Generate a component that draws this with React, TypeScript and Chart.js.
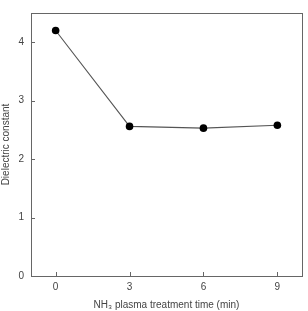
import React, { useEffect, useRef } from "react";
import { Chart, registerables } from "chart.js";

Chart.register(...registerables);

const treatmentTimes = [0, 3, 6, 9];
const dielectricConstants = [4.2, 2.56, 2.53, 2.58];
const xTickValues = [0, 3, 6, 9];
const yTickValues = [0, 1, 2, 3, 4];

const FONT = "'Liberation Sans', Arial, sans-serif";
const TEXT = "#444";
const FRAME = "#666";

// Draws the box around the plot area and short inward tick marks.
const framePlugin = {
  id: "frameTicks",
  afterDatasetsDraw(chart: any) {
    const { ctx, chartArea, scales } = chart;
    const { left, right, top, bottom } = chartArea;
    ctx.save();
    ctx.strokeStyle = FRAME;
    ctx.lineWidth = 1;
    ctx.strokeRect(Math.round(left) + 0.5, Math.round(top) + 0.5, Math.round(right - left), Math.round(bottom - top));
    const len = 4;
    ctx.beginPath();
    for (const v of xTickValues) {
      const x = Math.round(scales.x.getPixelForValue(v)) + 0.5;
      ctx.moveTo(x, Math.round(bottom));
      ctx.lineTo(x, Math.round(bottom) - len);
    }
    for (const v of yTickValues) {
      const y = Math.round(scales.y.getPixelForValue(v)) + 0.5;
      ctx.moveTo(Math.round(left), y);
      ctx.lineTo(Math.round(left) + len, y);
    }
    ctx.stroke();
    ctx.restore();
  },
};

export default function App() {
  const ref = useRef<HTMLCanvasElement>(null);

  useEffect(() => {
    if (!ref.current) return;
    const chart = new Chart(ref.current, {
      type: "scatter",
      data: {
        datasets: [
          {
            data: treatmentTimes.map((t, i) => ({ x: t, y: dielectricConstants[i] })),
            showLine: true,
            borderColor: "#555",
            borderWidth: 1.1,
            pointRadius: 3.8,
            pointBackgroundColor: "#000",
            pointBorderColor: "#000",
            pointBorderWidth: 0,
          },
        ],
      },
      options: {
        animation: false,
        responsive: false,
        devicePixelRatio: 1,
        layout: { padding: { top: 7, right: 6, left: 0, bottom: 0 } },
        plugins: { legend: { display: false }, tooltip: { enabled: false } },
        scales: {
          x: {
            type: "linear",
            min: -1,
            max: 10,
            afterBuildTicks: (s: any) => {
              s.ticks = xTickValues.map((v) => ({ value: v }));
            },
            afterFit: (s: any) => {
              s.height = 35;
            },
            grid: { display: false, drawTicks: false },
            border: { display: false },
            ticks: { color: TEXT, font: { family: FONT, size: 10 }, padding: 5 },
            title: {
              display: true,
              text: "NH₃ plasma treatment time (min)",
              color: TEXT,
              font: { family: FONT, size: 10 },
              padding: { top: 3, bottom: 0 },
            },
          },
          y: {
            type: "linear",
            min: 0,
            max: 4.5,
            afterBuildTicks: (s: any) => {
              s.ticks = yTickValues.map((v) => ({ value: v }));
            },
            afterFit: (s: any) => {
              s.width = 31;
            },
            grid: { display: false, drawTicks: false },
            border: { display: false },
            ticks: { color: TEXT, font: { family: FONT, size: 10 }, padding: 7 },
            title: {
              display: true,
              text: "Dielectric constant",
              color: TEXT,
              font: { family: FONT, size: 10 },
              padding: { top: 0, bottom: 4 },
            },
          },
        },
      },
      plugins: [framePlugin],
    });
    return () => chart.destroy();
  }, []);

  return (
    <div style={{ position: "absolute", left: 0, top: 0, width: 308, height: 311, background: "#fff" }}>
      <canvas ref={ref} width={308} height={311} />
    </div>
  );
}
